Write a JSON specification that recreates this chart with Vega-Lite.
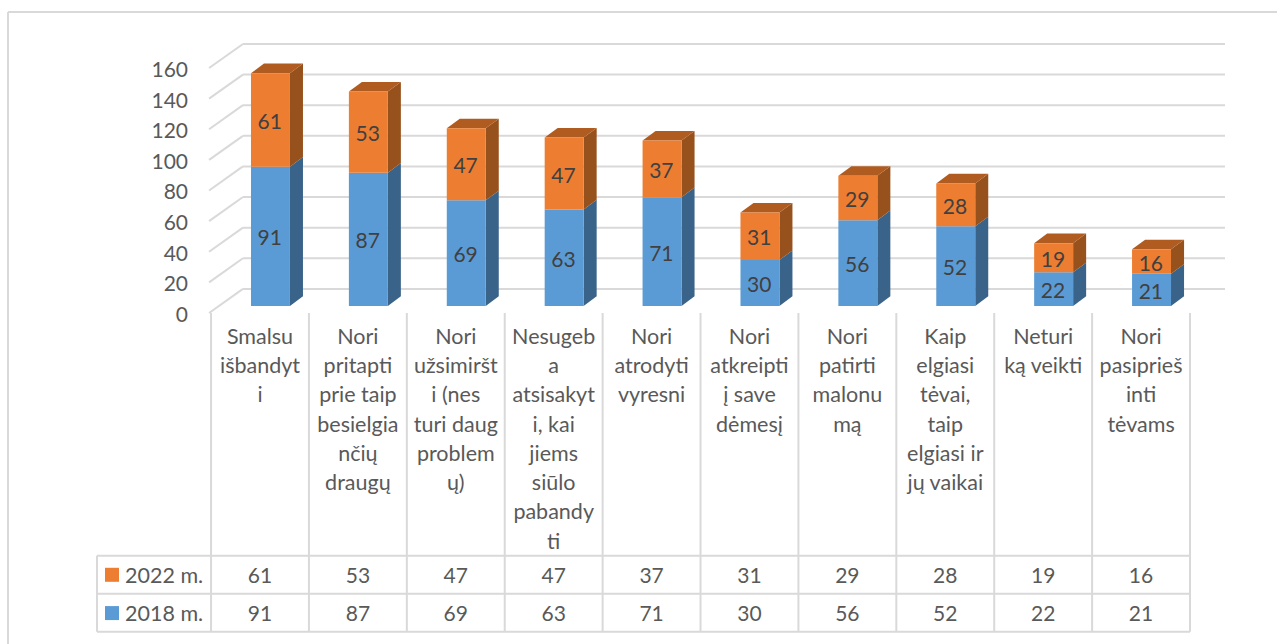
{
"$schema":"https://vega.github.io/schema/vega-lite/v6.json",
"width":1277,"height":644,"autosize":"none","padding":0,
"background":"white",
"config":{"view":{"stroke":null},"font":"Lato"},
"datasets":{
"bars":[
{"i":0,"cat":"Smalsu\nišbandyt\ni","series":"2018 m.","value":91},
{"i":0,"cat":"Smalsu\nišbandyt\ni","series":"2022 m.","value":61},
{"i":1,"cat":"Nori\npritapti\nprie taip\nbesielgia\nnčių\ndraugų","series":"2018 m.","value":87},
{"i":1,"cat":"Nori\npritapti\nprie taip\nbesielgia\nnčių\ndraugų","series":"2022 m.","value":53},
{"i":2,"cat":"Nori\nužsimiršt\ni (nes\nturi daug\nproblem\nų)","series":"2018 m.","value":69},
{"i":2,"cat":"Nori\nužsimiršt\ni (nes\nturi daug\nproblem\nų)","series":"2022 m.","value":47},
{"i":3,"cat":"Nesugeb\na\natsisakyt\ni, kai\njiems\nsiūlo\npabandy\nti","series":"2018 m.","value":63},
{"i":3,"cat":"Nesugeb\na\natsisakyt\ni, kai\njiems\nsiūlo\npabandy\nti","series":"2022 m.","value":47},
{"i":4,"cat":"Nori\natrodyti\nvyresni","series":"2018 m.","value":71},
{"i":4,"cat":"Nori\natrodyti\nvyresni","series":"2022 m.","value":37},
{"i":5,"cat":"Nori\natkreipti\nį save\ndėmesį","series":"2018 m.","value":30},
{"i":5,"cat":"Nori\natkreipti\nį save\ndėmesį","series":"2022 m.","value":31},
{"i":6,"cat":"Nori\npatirti\nmalonu\nmą","series":"2018 m.","value":56},
{"i":6,"cat":"Nori\npatirti\nmalonu\nmą","series":"2022 m.","value":29},
{"i":7,"cat":"Kaip\nelgiasi\ntėvai,\ntaip\nelgiasi ir\njų vaikai","series":"2018 m.","value":52},
{"i":7,"cat":"Kaip\nelgiasi\ntėvai,\ntaip\nelgiasi ir\njų vaikai","series":"2022 m.","value":28},
{"i":8,"cat":"Neturi\nką veikti","series":"2018 m.","value":22},
{"i":8,"cat":"Neturi\nką veikti","series":"2022 m.","value":19},
{"i":9,"cat":"Nori\npasiprieš\ninti\ntėvams","series":"2018 m.","value":21},
{"i":9,"cat":"Nori\npasiprieš\ninti\ntėvams","series":"2022 m.","value":16}
],
"ticks":[{"t":0},{"t":20},{"t":40},{"t":60},{"t":80},{"t":100},{"t":120},{"t":140},{"t":160}],
"cols":[{"c":-0.5},{"c":0.5},{"c":1.5},{"c":2.5},{"c":3.5},{"c":4.5},{"c":5.5},{"c":6.5},{"c":7.5},{"c":8.5},{"c":9.5}],
"rows":[{"r":-158.5},{"r":-183.4},{"r":-208.2}]
},
"data":{"name":"bars"},
"resolve":{"scale":{"fill":"independent"}},
"layer":[
{"data":{"name":"ticks"},
 "transform":[{"calculate":"datum.t+15.7","as":"wy"}],
 "mark":{"type":"rule","stroke":"#D9D9D9","strokeWidth":2},
 "encoding":{
  "x":{"datum":-0.174,"type":"quantitative","scale":{"domain":[-2.6558,10.3886],"range":[0,1277],"nice":false,"zero":false,"padding":0},"axis":null},
  "x2":{"datum":9.857},
  "y":{"field":"wy","type":"quantitative","scale":{"domain":[-216.2,204.4],"range":[644,0],"nice":false,"zero":false,"padding":0},"axis":null}
 }},
{"data":{"name":"ticks"},
 "transform":[{"calculate":"datum.t+15.7","as":"wy"}],
 "mark":{"type":"rule","stroke":"#D9D9D9","strokeWidth":2},
 "encoding":{
  "x":{"datum":-0.52,"type":"quantitative"},"x2":{"datum":-0.174},
  "y":{"field":"t","type":"quantitative"},"y2":{"field":"wy"}
 }},
{"data":{"name":"ticks"},
 "mark":{"type":"text","align":"right","baseline":"middle","fontSize":21,"color":"#595959","dy":3},
 "encoding":{
  "x":{"datum":-0.735,"type":"quantitative"},
  "y":{"field":"t","type":"quantitative"},
  "text":{"field":"t","type":"quantitative"}
 }},
{"data":{"name":"cols"},
 "mark":{"type":"rule","stroke":"#D9D9D9","strokeWidth":2},
 "encoding":{
  "x":{"field":"c","type":"quantitative"},
  "y":{"datum":0,"type":"quantitative"},"y2":{"datum":-208.2}
 }},
{"data":{"name":"rows"},
 "mark":{"type":"rule","stroke":"#D9D9D9","strokeWidth":2},
 "encoding":{
  "x":{"datum":-1.665,"type":"quantitative"},"x2":{"datum":9.5},
  "y":{"field":"r","type":"quantitative"}
 }},
{"data":{"values":[{"e":"table left"}]},
 "mark":{"type":"rule","stroke":"#D9D9D9","strokeWidth":2},
 "encoding":{
  "x":{"datum":-1.665,"type":"quantitative"},
  "y":{"datum":-158.5,"type":"quantitative"},"y2":{"datum":-208.2}
 }},
{"data":{"values":[{"e":"frame left"}]},
 "mark":{"type":"rule","stroke":"#D9D9D9","strokeWidth":2},
 "encoding":{
  "x":{"datum":-2.574,"type":"quantitative"},
  "y":{"datum":196.5,"type":"quantitative"},"y2":{"datum":-216.2}
 }},
{"data":{"values":[{"e":"frame top"}]},
 "mark":{"type":"rule","stroke":"#D9D9D9","strokeWidth":2},
 "encoding":{
  "x":{"datum":-2.574,"type":"quantitative"},"x2":{"datum":10.3886},
  "y":{"datum":196.5,"type":"quantitative"}
 }},
{"transform":[
  {"stack":"value","groupby":["i"],"sort":[{"field":"series","order":"ascending"}],"as":["v0","v1"]},
  {"calculate":"datum.i+'-'+datum.series","as":"key"},
  {"calculate":"[0,1]","as":"k"},
  {"flatten":["k"]},
  {"calculate":"datum.i+0.306+datum.k*0.133","as":"px"},
  {"calculate":"datum.v1+4.57+datum.k*6.3","as":"pa"},
  {"calculate":"datum.v0+4.57+datum.k*6.3","as":"pb"}
 ],
 "mark":{"type":"area","interpolate":"linear","orient":"vertical"},
 "encoding":{
  "x":{"field":"px","type":"quantitative"},
  "y":{"field":"pa","type":"quantitative","stack":null},"y2":{"field":"pb"},
  "detail":{"field":"key","type":"nominal"},
  "fill":{"field":"series","type":"nominal","scale":{"domain":["2018 m.","2022 m."],"range":["#3A6389","#97511C"]},"legend":null}
 }},
{"transform":[
  {"stack":"value","groupby":["i"],"sort":[{"field":"series","order":"ascending"}],"as":["v0","v1"]},
  {"filter":"datum.series=='2022 m.'"},
  {"calculate":"[0,1]","as":"k"},
  {"flatten":["k"]},
  {"calculate":"datum.v1+4.57+datum.k*6.3","as":"py"},
  {"calculate":"datum.i-0.092+datum.k*0.133","as":"pl"},
  {"calculate":"datum.i+0.306+datum.k*0.133","as":"pr"}
 ],
 "mark":{"type":"area","orient":"horizontal","interpolate":"linear"},
 "encoding":{
  "y":{"field":"py","type":"quantitative"},
  "x":{"field":"pl","type":"quantitative","stack":null},"x2":{"field":"pr"},
  "detail":{"field":"i","type":"nominal"},
  "fill":{"field":"series","type":"nominal","scale":{"domain":["2022 m."],"range":["#B05C20"]},"legend":null}
 }},
{"transform":[
  {"stack":"value","groupby":["i"],"sort":[{"field":"series","order":"ascending"}],"as":["v0","v1"]},
  {"calculate":"datum.v1+4.57","as":"top"},{"calculate":"datum.v0+4.57","as":"bot"},
  {"calculate":"datum.i-0.092","as":"xl"},{"calculate":"datum.i+0.306","as":"xr"}
 ],
 "mark":{"type":"rect"},
 "encoding":{
  "x":{"field":"xl","type":"quantitative"},"x2":{"field":"xr"},
  "y":{"field":"top","type":"quantitative"},"y2":{"field":"bot"},
  "fill":{"field":"series","type":"nominal","scale":{"domain":["2018 m.","2022 m."],"range":["#5B9BD5","#ED7D31"]},"legend":null}
 }},
{"transform":[
  {"stack":"value","groupby":["i"],"sort":[{"field":"series","order":"ascending"}],"as":["v0","v1"]},
  {"calculate":"(datum.v0+datum.v1)/2+4.57","as":"mid"},
  {"calculate":"datum.i+0.1","as":"xm"}
 ],
 "mark":{"type":"text","align":"center","baseline":"middle","fontSize":21,"color":"#404040","dy":3},
 "encoding":{
  "x":{"field":"xm","type":"quantitative"},
  "y":{"field":"mid","type":"quantitative"},
  "text":{"field":"value","type":"quantitative"}
 }},
{"transform":[{"filter":"datum.series=='2018 m.'"}],
 "mark":{"type":"text","align":"center","baseline":"top","fontSize":21.5,"color":"#595959","lineBreak":"\n","lineHeight":29.3,"dy":-1},
 "encoding":{
  "x":{"field":"i","type":"quantitative"},
  "y":{"datum":-9.6,"type":"quantitative"},
  "text":{"field":"cat","type":"nominal"}
 }},
{"transform":[{"calculate":"datum.series=='2022 m.'?-171:-196","as":"ry"}],
 "mark":{"type":"text","align":"center","baseline":"middle","fontSize":21,"color":"#595959","dy":2},
 "encoding":{
  "x":{"field":"i","type":"quantitative"},
  "y":{"field":"ry","type":"quantitative"},
  "text":{"field":"value","type":"quantitative"}
 }},
{"transform":[{"filter":"datum.i==0"},{"calculate":"datum.series=='2022 m.'?-171:-196","as":"ry"}],
 "mark":{"type":"text","align":"left","baseline":"middle","fontSize":21.5,"color":"#595959","dy":2},
 "encoding":{
  "x":{"datum":-1.379,"type":"quantitative"},
  "y":{"field":"ry","type":"quantitative"},
  "text":{"field":"series","type":"nominal"}
 }},
{"transform":[{"filter":"datum.i==0"},{"calculate":"datum.series=='2022 m.'?-171:-196","as":"ry"}],
 "mark":{"type":"point","shape":"square","filled":true,"opacity":1,"size":196},
 "encoding":{
  "x":{"datum":-1.512,"type":"quantitative"},
  "y":{"field":"ry","type":"quantitative"},
  "fill":{"field":"series","type":"nominal","scale":{"domain":["2018 m.","2022 m."],"range":["#5B9BD5","#ED7D31"]},"legend":null}
 }}
]
}
